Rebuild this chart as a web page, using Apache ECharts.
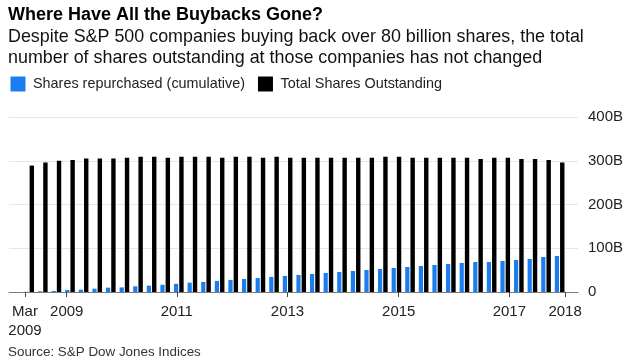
<!DOCTYPE html>
<html>
<head>
<meta charset="utf-8">
<script src="https://cdn.jsdelivr.net/npm/echarts@6/dist/echarts.min.js"></script>
<style>
html,body{margin:0;padding:0;background:#fff;}
#chart{width:637px;height:364px;}
</style>
</head>
<body>
<div id="chart"></div>
<script>
// Quarterly, Mar 2009 .. Dec 2018
const quarters = [
  '2009Q1','2009Q2','2009Q3','2009Q4','2010Q1','2010Q2','2010Q3','2010Q4',
  '2011Q1','2011Q2','2011Q3','2011Q4','2012Q1','2012Q2','2012Q3','2012Q4',
  '2013Q1','2013Q2','2013Q3','2013Q4','2014Q1','2014Q2','2014Q3','2014Q4',
  '2015Q1','2015Q2','2015Q3','2015Q4','2016Q1','2016Q2','2016Q3','2016Q4',
  '2017Q1','2017Q2','2017Q3','2017Q4','2018Q1','2018Q2','2018Q3','2018Q4'
];
// Billions of shares
const repurchased = [
  0.5, 1.5, 2.3, 4.6, 5.3, 7.6, 9.9, 10.5, 13, 14.5,
  16.5, 18.7, 21.3, 23, 25.3, 27.6, 29.8, 32, 34.5, 36.8,
  39, 41.1, 43.4, 45.7, 48, 50.3, 52.6, 54.9, 57.1, 59.4,
  61.7, 64, 66.3, 68.6, 68.6, 70.9, 73.1, 75.4, 80, 82.3
];
const outstanding = [
  289, 296, 300, 302, 305, 305, 305, 307, 309, 309,
  307, 309, 309, 309, 307, 309, 309, 307, 309, 307,
  307, 307, 307, 307, 307, 307, 309, 309, 307, 307,
  307, 307, 307, 304, 307, 307, 304, 304, 302, 296
];
// x-axis tick labels and where they sit (in quarter-index units)
const tickLabels = ['Mar\n2009', '2009', '2011', '2013', '2015', '2017', '2018'];
const tickAt = [-0.31, 2.76, 10.85, 18.99, 27.17, 35.3, 39.4];

const FONT = 'Arial, "Liberation Sans", sans-serif';
const chart = echarts.init(document.getElementById('chart'), null, {renderer: 'canvas'});

const blueData = quarters.map((q, i) => [i, repurchased[i]]);
const blackData = quarters.map((q, i) => [i, outstanding[i]]);

chart.setOption({
  animation: false,
  backgroundColor: '#fff',
  textStyle: {fontFamily: FONT},
  title: [
    {
      text: 'Where Have All the Buybacks Gone?',
      left: 8, top: 4, padding: 0,
      textStyle: {fontFamily: FONT, fontSize: 18, fontWeight: 'bold', color: '#000', lineHeight: 22}
    },
    {
      text: 'Despite S&P 500 companies buying back over 80 billion shares, the total\nnumber of shares outstanding at those companies has not changed',
      left: 8, top: 27, padding: 0,
      textStyle: {fontFamily: FONT, fontSize: 17.9, fontWeight: 'normal', color: '#111', lineHeight: 21}
    },
    {
      text: 'Source: S&P Dow Jones Indices',
      left: 8, top: 344, padding: 0,
      textStyle: {fontFamily: FONT, fontSize: 13.4, fontWeight: 'normal', color: '#333', lineHeight: 16}
    }
  ],
  legend: {
    left: 10.5, top: 76.5, padding: 0,
    itemWidth: 15, itemHeight: 15, itemGap: 13,
    icon: 'rect',
    itemStyle: {borderWidth: 0},
    textStyle: {fontFamily: FONT, fontSize: 14.4, color: '#222', padding: [0, 0, 0, 2.5]},
    data: ['Shares repurchased (cumulative)', 'Total Shares Outstanding']
  },
  grid: {left: 9, right: 59, top: 117, bottom: 72, containLabel: false, outerBoundsMode: 'none'},
  xAxis: {
    type: 'value',
    min: -1.485,
    max: 40.35,
    splitLine: {show: false},
    axisLine: {show: true, lineStyle: {color: '#7a7a7a', width: 1}},
    axisTick: {show: true, customValues: tickAt, length: 5, lineStyle: {color: '#444', width: 1}},
    axisLabel: {
      show: true,
      customValues: tickAt,
      margin: 10.5,
      fontFamily: FONT, fontSize: 15, color: '#222', lineHeight: 19,
      formatter: function (v) {
        const i = tickAt.indexOf(v);
        return i >= 0 ? tickLabels[i] : '';
      }
    }
  },
  yAxis: {
    type: 'value',
    position: 'right',
    min: 0, max: 400, interval: 100,
    axisLine: {show: false},
    axisTick: {show: false},
    splitLine: {show: true, lineStyle: {color: '#e6e6e6', width: 1}},
    axisLabel: {
      margin: 10,
      fontFamily: FONT, fontSize: 15, color: '#222',
      formatter: function (v) { return v === 0 ? '0' : v + 'B'; }
    }
  },
  series: [
    {
      name: 'Shares repurchased (cumulative)',
      type: 'bar',
      data: blueData,
      barWidth: 4.2,
      barGap: '25%',
      itemStyle: {color: '#1a7ef0'}
    },
    {
      name: 'Total Shares Outstanding',
      type: 'bar',
      data: blackData,
      barWidth: 4.4,
      barGap: '25%',
      itemStyle: {color: '#000000'}
    }
  ]
});
</script>
</body>
</html>
